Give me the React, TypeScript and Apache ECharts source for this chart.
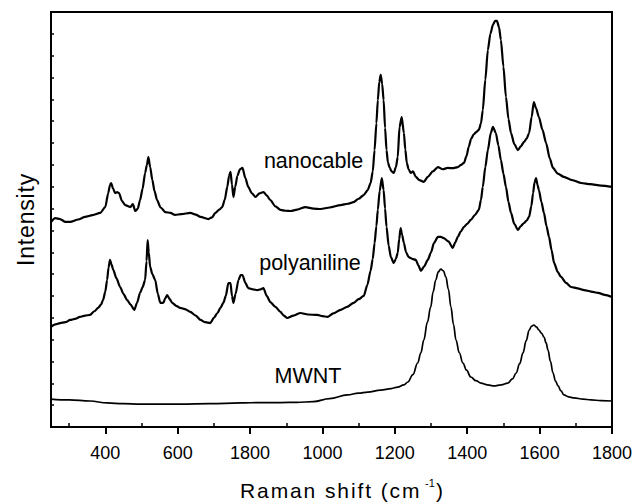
import React, { useEffect, useRef } from "react";
import * as echarts from "echarts";

const xTickValues = [400, 600, 800, 1000, 1200, 1400, 1600, 1800];
const xTickLabels = ["400", "600", "1800", "1000", "1200", "1400", "1600", "1800"];
const xMinorValues = [300, 500, 700, 900, 1100, 1300, 1500, 1700];
const curveLabels = ["nanocable", "polyaniline", "MWNT"];
const xTitleParts = ["Raman shift (cm", "-1", ")"];
const yTitle = "Intensity";

const nanocable: [number, number][] = [
  [250, 9.39], [262, 9.56], [275, 9.52], [290, 9.39], [303, 9.39], [325, 9.5], [344, 9.62], [365, 9.7],
  [386, 9.8], [400, 10.07], [408, 10.7], [413, 11.08], [416, 11.17], [422, 10.9], [427, 10.71], [433, 10.75],
  [438, 10.71], [446, 10.35], [455, 10.16], [469, 10.07], [476, 10.2], [483, 9.89], [490, 10.0], [496, 10.39],
  [503, 10.9], [510, 11.63], [515, 12.0], [519, 12.36], [524, 11.9], [530, 11.31], [536, 10.8], [543, 10.39],
  [553, 10.05], [566, 9.84], [580, 9.8], [593, 9.71], [610, 9.75], [635, 9.8], [650, 9.72], [663, 9.62],
  [685, 9.52], [695, 9.6], [704, 9.8], [715, 9.95], [723, 10.07], [730, 10.4], [737, 10.99], [742, 11.5],
  [746, 11.68], [750, 11.1], [754, 10.53], [759, 10.99], [765, 11.5], [772, 11.8], [779, 11.86], [787, 11.4],
  [795, 10.99], [805, 10.7], [815, 10.53], [826, 10.7], [837, 10.76], [846, 10.6], [856, 10.39], [870, 10.1],
  [884, 9.94], [898, 9.9], [912, 9.89], [930, 9.95], [953, 10.07], [975, 10.0], [995, 9.98], [1020, 10.05],
  [1050, 10.16], [1070, 10.22], [1086, 10.3], [1100, 10.45], [1114, 10.62], [1125, 10.85], [1133, 11.17],
  [1139, 11.7], [1144, 12.68], [1149, 13.9], [1153, 14.97], [1157, 15.8], [1161, 16.12], [1165, 15.7],
  [1169, 14.97], [1173, 13.7], [1177, 12.68], [1181, 12.1], [1186, 11.86], [1191, 11.7], [1197, 11.63],
  [1203, 11.9], [1208, 12.36], [1213, 13.74], [1219, 14.19], [1225, 13.46], [1229, 12.7], [1233, 12.09],
  [1238, 11.8], [1244, 11.63], [1250, 11.7], [1258, 11.45], [1268, 11.3], [1280, 11.22], [1291, 11.45],
  [1305, 11.7], [1319, 11.9], [1332, 11.8], [1346, 11.86], [1360, 11.85], [1374, 11.9], [1383, 12.0],
  [1391, 12.09], [1398, 12.4], [1404, 12.82], [1411, 13.2], [1418, 13.4], [1425, 13.5], [1432, 13.6],
  [1438, 13.9], [1443, 14.51], [1450, 15.9], [1457, 17.26], [1464, 18.0], [1471, 18.41], [1477, 18.59],
  [1482, 18.59], [1488, 18.3], [1493, 17.72], [1500, 16.5], [1507, 15.11], [1514, 14.1], [1521, 13.46],
  [1530, 12.95], [1540, 12.68], [1548, 12.85], [1557, 13.05], [1564, 13.2], [1571, 13.46], [1578, 14.2],
  [1584, 14.88], [1590, 14.6], [1598, 14.19], [1608, 13.6], [1618, 13.0], [1628, 12.3], [1637, 11.86],
  [1650, 11.6], [1667, 11.45], [1690, 11.3], [1715, 11.17], [1740, 11.12], [1770, 11.05], [1800, 10.99],
];

const polyaniline: [number, number][] = [
  [250, 4.58], [262, 4.7], [275, 4.76], [290, 4.8], [303, 4.9], [316, 4.95], [330, 5.04], [344, 5.1],
  [358, 5.13], [370, 5.3], [380, 5.45], [388, 5.6], [394, 5.82], [400, 6.2], [405, 6.73], [409, 7.3],
  [413, 7.65], [417, 7.45], [422, 7.19], [431, 6.8], [441, 6.41], [450, 6.1], [460, 5.82], [470, 5.6],
  [480, 5.36], [488, 5.7], [496, 6.14], [503, 6.4], [510, 6.73], [514, 7.6], [517, 8.56], [520, 8.0],
  [524, 7.33], [530, 7.0], [538, 6.73], [545, 6.1], [552, 5.68], [560, 5.68], [566, 5.9], [571, 6.04],
  [578, 5.85], [585, 5.68], [596, 5.55], [607, 5.45], [620, 5.4], [635, 5.27], [650, 5.1], [663, 4.9],
  [676, 4.8], [690, 4.76], [700, 5.0], [710, 5.22], [718, 5.45], [726, 5.68], [733, 6.0], [740, 6.59],
  [746, 6.59], [750, 6.0], [754, 5.68], [760, 6.1], [768, 6.73], [774, 6.95], [779, 6.96], [787, 6.6],
  [795, 6.36], [808, 6.3], [820, 6.27], [829, 6.3], [837, 6.36], [846, 6.0], [856, 5.72], [870, 5.5],
  [884, 5.27], [893, 5.1], [903, 4.99], [920, 5.1], [939, 5.22], [960, 5.15], [986, 5.13], [1000, 5.08],
  [1014, 5.04], [1030, 5.2], [1050, 5.36], [1068, 5.5], [1086, 5.68], [1100, 5.85], [1114, 6.0],
  [1124, 6.5], [1133, 7.15], [1139, 7.7], [1144, 8.42], [1149, 9.2], [1153, 9.94], [1158, 10.8],
  [1164, 11.4], [1169, 10.85], [1173, 10.0], [1177, 9.16], [1183, 8.3], [1189, 7.78], [1197, 7.51],
  [1203, 7.7], [1208, 7.97], [1212, 8.6], [1216, 9.11], [1220, 8.8], [1225, 8.42], [1231, 8.0],
  [1238, 7.78], [1248, 7.7], [1258, 7.65], [1265, 7.4], [1272, 7.15], [1281, 7.35], [1291, 7.65],
  [1300, 8.0], [1308, 8.42], [1319, 8.7], [1327, 8.7], [1335, 8.65], [1348, 8.5], [1360, 8.2],
  [1367, 8.45], [1374, 8.7], [1382, 8.95], [1391, 9.16], [1400, 9.3], [1410, 9.48], [1421, 9.7],
  [1432, 9.94], [1438, 10.4], [1443, 10.99], [1450, 11.9], [1457, 12.68], [1465, 13.46], [1471, 13.74],
  [1479, 13.46], [1486, 12.9], [1493, 12.23], [1500, 11.6], [1507, 10.99], [1514, 10.3], [1521, 9.8],
  [1530, 9.3], [1540, 9.02], [1548, 9.2], [1557, 9.34], [1564, 9.45], [1571, 9.62], [1577, 10.1],
  [1582, 10.71], [1586, 11.2], [1590, 11.4], [1594, 11.1], [1598, 10.85], [1605, 10.3], [1612, 9.8],
  [1619, 9.2], [1626, 8.7], [1633, 8.1], [1640, 7.51], [1650, 7.1], [1659, 6.87], [1673, 6.6],
  [1687, 6.41], [1705, 6.35], [1723, 6.27], [1742, 6.2], [1762, 6.14], [1780, 6.05], [1800, 5.95],
];

const mwnt: [number, number][] = [
  [250, 1.28], [300, 1.24], [358, 1.19], [405, 1.1], [450, 1.07], [496, 1.05], [550, 1.05], [607, 1.05],
  [690, 1.07], [773, 1.1], [830, 1.12], [884, 1.12], [930, 1.13], [975, 1.16], [1020, 1.3], [1069, 1.47],
  [1100, 1.55], [1125, 1.6], [1161, 1.69], [1190, 1.76], [1208, 1.83], [1225, 1.93], [1236, 2.06],
  [1250, 2.4], [1263, 2.93], [1272, 3.4], [1280, 3.98], [1290, 4.8], [1299, 5.49], [1306, 6.2],
  [1313, 6.73], [1320, 7.1], [1327, 7.23], [1334, 7.15], [1341, 6.87], [1348, 6.3], [1355, 5.49],
  [1362, 4.7], [1369, 3.98], [1378, 3.4], [1388, 2.93], [1398, 2.6], [1410, 2.29], [1424, 2.12],
  [1438, 2.01], [1456, 1.93], [1474, 1.88], [1494, 1.93], [1512, 2.01], [1525, 2.2], [1535, 2.47],
  [1545, 2.9], [1554, 3.39], [1563, 3.95], [1571, 4.44], [1578, 4.62], [1584, 4.67], [1591, 4.58],
  [1598, 4.44], [1605, 4.3], [1612, 4.12], [1618, 3.85], [1623, 3.53], [1630, 3.0], [1637, 2.47],
  [1644, 2.1], [1651, 1.88], [1659, 1.65], [1667, 1.47], [1680, 1.38], [1695, 1.33], [1720, 1.28],
  [1742, 1.24], [1770, 1.21], [1800, 1.19],
];

const FONT = '"Liberation Sans", Arial, Helvetica, sans-serif';

const letterSpacing: Record<string, number> = {
  Intensity: 0.8,
  "Raman shift (cm": 1.9,
};

export default function App() {
  const ref = useRef<HTMLDivElement>(null);
  useEffect(() => {
    document.body.style.margin = "0";
    const el = ref.current!;
    const chart = echarts.init(el, null, { renderer: "svg" });
    const gridBox = { left: 51, top: 12, right: 22, bottom: 75, outerBoundsMode: "none", containLabel: false };
    const labelStyle = (text: string, size: number) => ({
      text,
      fontSize: size,
      fontFamily: FONT,
      fill: "#000",
      align: "center",
      verticalAlign: "middle",
    });
    const option: any = {
      animation: false,
      backgroundColor: "#fff",
      grid: [
        { ...gridBox, show: true, borderColor: "#000", borderWidth: 2, backgroundColor: "transparent" },
        { ...gridBox },
      ],
      xAxis: [
        {
          type: "value",
          gridIndex: 0,
          min: 250,
          max: 1800,
          position: "bottom",
          axisLine: { show: true, onZero: false, lineStyle: { color: "#000", width: 2 } },
          axisTick: { show: true, customValues: xTickValues, inside: false, length: 7, lineStyle: { color: "#000", width: 2 } },
          axisLabel: {
            show: true,
            customValues: xTickValues,
            formatter: (v: number) => xTickLabels[xTickValues.indexOf(v)] ?? "",
            fontSize: 18,
            fontFamily: FONT,
            color: "#000",
            margin: 17,
          },
          splitLine: { show: false },
        },
        {
          type: "value",
          gridIndex: 1,
          min: 250,
          max: 1800,
          position: "bottom",
          axisLine: { show: false, onZero: false },
          axisTick: { show: true, customValues: xMinorValues, inside: true, length: 4, lineStyle: { color: "#000", width: 1.5 } },
          axisLabel: { show: false },
          splitLine: { show: false },
        },
      ],
      yAxis: [
        {
          type: "value",
          gridIndex: 0,
          min: 0,
          max: 19,
          interval: 1,
          axisLine: { show: true, onZero: false, lineStyle: { color: "#000", width: 2 } },
          axisTick: { show: true, inside: true, length: 3, lineStyle: { color: "#000", width: 1.5 } },
          axisLabel: { show: false },
          splitLine: { show: false },
          name: yTitle,
          nameLocation: "middle",
          nameGap: 14,
          nameRotate: 90,
          nameTextStyle: { fontSize: 23, fontFamily: FONT, color: "#000" },
        },
        { type: "value", gridIndex: 1, min: 0, max: 19, show: false },
      ],
      series: [
        {
          name: curveLabels[0],
          type: "line",
          data: nanocable,
          showSymbol: false,
          symbol: "none",
          smooth: 0.25,
          smoothMonotone: "x",
          lineStyle: { color: "#000", width: 2.2 },
        },
        {
          name: curveLabels[1],
          type: "line",
          data: polyaniline,
          showSymbol: false,
          symbol: "none",
          smooth: 0.25,
          smoothMonotone: "x",
          lineStyle: { color: "#000", width: 2.2 },
        },
        {
          name: curveLabels[2],
          type: "line",
          data: mwnt,
          showSymbol: false,
          symbol: "none",
          smooth: 0.4,
          smoothMonotone: "x",
          lineStyle: { color: "#000", width: 1.7 },
        },
      ],
      graphic: [
        { type: "text", x: 313.5, y: 160.5, style: labelStyle(curveLabels[0], 21.5) },
        { type: "text", x: 310, y: 262.5, style: labelStyle(curveLabels[1], 21.5) },
        { type: "text", x: 308, y: 375.5, style: labelStyle(curveLabels[2], 21.5) },
        { type: "text", x: 240, y: 490.7, style: { ...labelStyle(xTitleParts[0], 21), align: "left" } },
        { type: "text", x: 425, y: 483, style: { ...labelStyle(xTitleParts[1], 11), align: "left" } },
        { type: "text", x: 436, y: 490.7, style: { ...labelStyle(xTitleParts[2], 21), align: "left" } },
      ],
    };
    chart.setOption(option);
    const apply = () => {
      el.querySelectorAll("text").forEach((t) => {
        const s = letterSpacing[(t.textContent ?? "").trim()];
        if (s !== undefined) t.setAttribute("letter-spacing", String(s));
      });
    };
    apply();
    chart.on("finished", apply);
    return () => {
      chart.dispose();
    };
  }, []);
  return <div ref={ref} style={{ position: "fixed", left: 0, top: 0, width: 634, height: 502 }} />;
}
